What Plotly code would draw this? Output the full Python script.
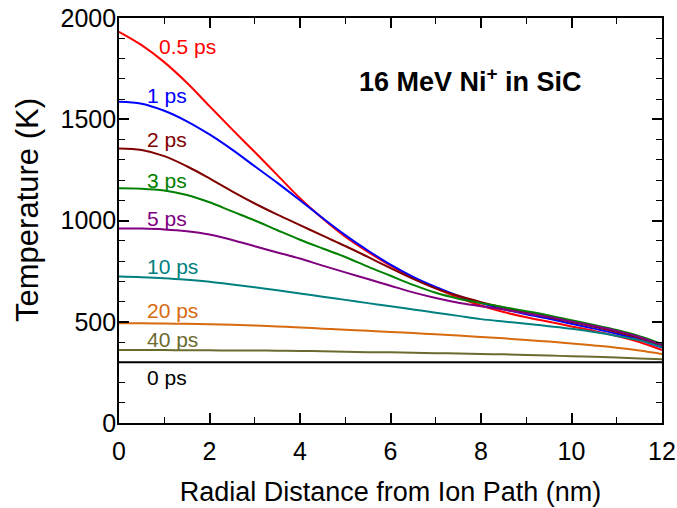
import plotly.graph_objects as go

x_nm = [0, 0.5, 1, 1.5, 2, 2.5, 3, 3.5, 4, 4.5, 5, 5.5, 6, 6.5, 7, 7.5, 8, 8.5, 9, 9.5, 10, 10.5, 11, 11.5, 12]

t_05ps = [1932, 1866, 1782, 1680, 1565, 1450, 1338, 1224, 1110, 1010, 920, 845, 777, 717, 665, 620, 580, 548, 522, 500, 477, 455, 430, 400, 360]
t_1ps = [1587, 1577, 1542, 1490, 1425, 1350, 1268, 1186, 1100, 1012, 928, 852, 782, 722, 672, 628, 592, 562, 537, 515, 490, 466, 441, 411, 372]
t_2ps = [1356, 1348, 1318, 1268, 1208, 1144, 1084, 1029, 977, 925, 874, 820, 765, 712, 665, 628, 597, 570, 546, 522, 499, 475, 449, 419, 380]
t_3ps = [1159, 1157, 1148, 1126, 1090, 1045, 1000, 952, 905, 862, 820, 772, 727, 682, 643, 614, 592, 572, 552, 531, 507, 484, 459, 429, 390]
t_5ps = [961, 960, 956, 947, 931, 904, 873, 842, 812, 777, 744, 711, 678, 645, 617, 594, 577, 560, 542, 523, 501, 479, 455, 425, 385]
t_10ps = [723, 720, 715, 707, 697, 684, 670, 655, 640, 624, 608, 592, 577, 561, 545, 529, 513, 501, 490, 478, 465, 449, 430, 408, 375]
t_20ps = [492, 492, 491, 490, 488, 485, 482, 477, 472, 466, 460, 455, 450, 444, 438, 432, 425, 418, 410, 402, 393, 383, 372, 358, 341]
t_40ps = [360, 360, 360, 359, 359, 358, 358, 357, 356, 354, 352, 350, 349, 347, 345, 343, 341, 339, 336, 333, 330, 327, 323, 319, 315]
t_0ps = [300] * 25

series_names = ["0.5 ps", "1 ps", "2 ps", "3 ps", "5 ps", "10 ps", "20 ps", "40 ps", "0 ps"]
series_vals = [t_05ps, t_1ps, t_2ps, t_3ps, t_5ps, t_10ps, t_20ps, t_40ps, t_0ps]
colors = ["#ff0000", "#0000ff", "#800000", "#008000", "#800080", "#008080", "#d86a10", "#6b6b30", "#000000"]

label_x = [0.84, 0.57, 0.57, 0.57, 0.57, 0.57, 0.57, 0.57, 0.57]
label_y = [1857, 1615, 1398, 1200, 1012, 775, 558, 410, 227]

FONT = "Liberation Sans, Arial, sans-serif"

fig = go.Figure()
for name, vals, c in zip(series_names, series_vals, colors):
    fig.add_trace(go.Scatter(x=x_nm, y=vals, mode="lines", name=name,
                             line=dict(color=c, width=2, shape="spline", smoothing=1.0),
                             showlegend=False, hoverinfo="skip"))

for name, lx, ly, c in zip(series_names, label_x, label_y, colors):
    fig.add_annotation(x=lx, y=ly, text=name, showarrow=False, xanchor="left", yanchor="middle",
                       font=dict(family=FONT, size=21, color=c))

fig.add_annotation(x=7.76, y=1694, text="<b>16 MeV Ni<sup>+</sup> in SiC</b>", showarrow=False,
                   xanchor="center", yanchor="middle",
                   font=dict(family=FONT, size=27, color="black"))

# y-axis title (drawn as rotated annotation to match the reference's placement)
fig.add_annotation(xref="paper", yref="paper", x=-0.1676, y=0.526, text="Temperature (K)",
                   textangle=-90, showarrow=False, xanchor="center", yanchor="middle",
                   font=dict(family=FONT, size=31, color="black"))

axis_common = dict(showline=True, linecolor="black", linewidth=1.6, mirror="allticks",
                   ticks="inside", ticklen=10, tickwidth=1.6, tickcolor="black",
                   showgrid=False, zeroline=False, ticklabeloverflow="allow", automargin=False,
                   tickfont=dict(family=FONT, size=25, color="black"))

fig.update_xaxes(range=[0, 12], dtick=2, tick0=0, ticklabelstandoff=5,
                 minor=dict(dtick=1, ticks="inside", ticklen=6, tickwidth=1.3, tickcolor="black"),
                 title=dict(text="Radial Distance from Ion Path (nm)", standoff=18,
                            font=dict(family=FONT, size=27, color="black")),
                 **axis_common)
fig.update_yaxes(range=[0, 2000], dtick=500, tick0=0, ticklabelstandoff=-4,
                 minor=dict(dtick=100, ticks="inside", ticklen=6, tickwidth=1.3, tickcolor="black"),
                 **axis_common)

fig.update_layout(width=677, height=508, margin=dict(l=119, r=15, t=18, b=85),
                  plot_bgcolor="white", paper_bgcolor="white")

fig.write_html("out.html", config={"displayModeBar": False},
               post_script="document.body.style.margin='0';document.body.style.overflow='hidden';")
